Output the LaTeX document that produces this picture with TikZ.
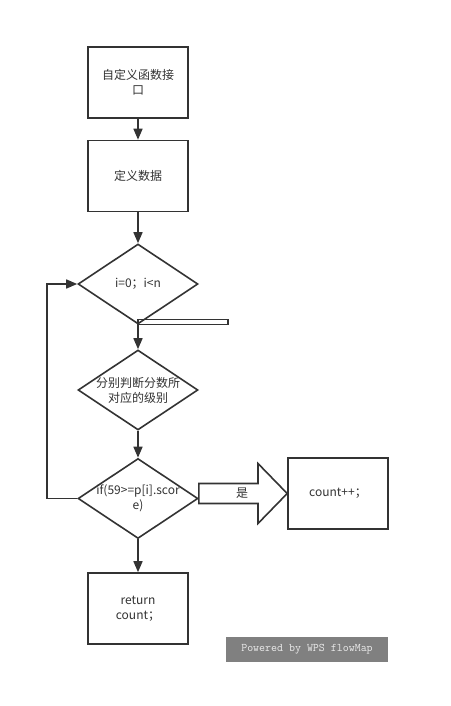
\documentclass[tikz,border=0pt]{standalone}
\usepackage{fontspec}
\setmainfont{Noto Sans CJK SC}
\usetikzlibrary{shapes.geometric,arrows.meta}
\definecolor{ln}{HTML}{333333}
\definecolor{wm}{HTML}{808080}
\begin{document}
\begin{tikzpicture}[x=1pt,y=-1pt,
  every node/.style={font=\fontsize{12}{15}\selectfont, text=ln},
  box/.style={draw=ln, line width=1.6pt, minimum width=100pt, minimum height=71pt, inner sep=0pt, align=center, fill=white},
  dia/.style={draw=ln, line width=1.6pt, diamond, minimum width=120pt, minimum height=80pt, inner sep=0pt, fill=white},
  lbl/.style={align=center, inner sep=0pt},
  conn/.style={draw=ln, line width=1.6pt, -{Triangle[length=11pt,width=9pt]}}]
\useasboundingbox (0,0) rectangle (450,706);
\node[box] (b1) at (138,82.5) {自定义函数接\\口};
\node[box] (b2) at (138,176) {定义数据};
\node[dia] (d1) at (138,284) {};
\node[lbl] at (d1.center) {i=0；i<n};
\node[dia] (d2) at (138,390) {};
\node[lbl] at (d2.center) {分别判断分数所\\对应的级别};
\node[dia] (d3) at (138,498.5) {};
\node[box] (c) at (338,493.5) {count++；};
\node[box] (r) at (138,608.5) {return\\count；};
\node[fill=wm, minimum width=162pt, minimum height=25pt, inner sep=0pt, text=white!92!black, font=\ttfamily\fontsize{11.6}{13}\selectfont] (w) at (307,649.5) {Powered by WPS flowMap};
% connectors
\draw[conn] (b1) -- (b2);
\draw[conn] (b2) -- (d1);
\draw[conn] (d1) -- (d2);
\draw[conn] (d2) -- (d3);
\draw[conn] (d3) -- (r);
\coordinate (lp) at (47,498.5);
\draw[conn] (d3.west) -- (lp) |- (d1.west);
% thin flat bar under d1
\draw[ln, line width=1.6pt] (138,319.5) rectangle (228,324.5);
% block arrow
\draw[ln, line width=1.6pt, fill=white, line join=miter] (d3.east |- 0,483.5) -- (258,483.5) -- (258,463.5) -- (c.west) -- (258,523.5) -- (258,503.5) -- (d3.east |- 0,503.5) -- cycle;
\node[lbl] at (d3.center) {if(59>=p[i].scor\\e)};
\node[lbl] at (242,493.5) {是};
\end{tikzpicture}
\end{document}
